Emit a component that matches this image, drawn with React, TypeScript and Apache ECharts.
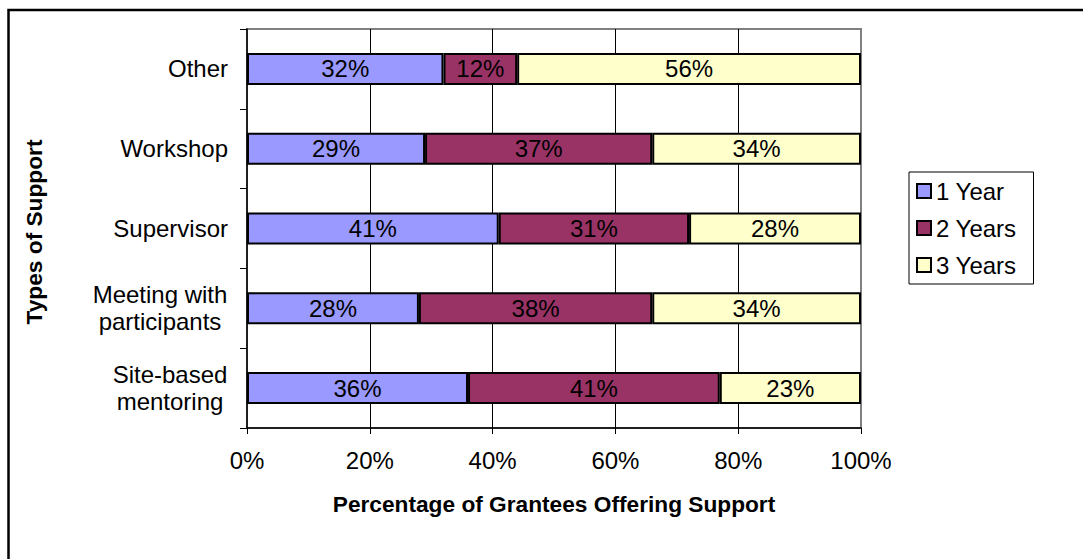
import React, { useEffect, useRef } from "react";
import * as echarts from "echarts";

const categories = [
  "Site-based\nmentoring",
  "Meeting with\nparticipants",
  "Supervisor",
  "Workshop",
  "Other",
];
const seriesNames = ["1 Year", "2 Years", "3 Years"];
const oneYear = [36, 28, 41, 29, 32];
const twoYears = [41, 38, 31, 37, 12];
const threeYears = [23, 34, 28, 34, 56];
const xTicks = [0, 20, 40, 60, 80, 100];
const colors = ["#9999FF", "#993366", "#FFFFCC"];

const FONT = "'Liberation Sans', Arial, sans-serif";

export default function App() {
  const ref = useRef<HTMLDivElement>(null);
  useEffect(() => {
    if (!ref.current) return;
    const chart = echarts.init(ref.current, null, { renderer: "svg" });
    const values = [oneYear, twoYears, threeYears];
    const labelWidths: Record<string, number> = {
      "Meeting with\nparticipants": 136,
      "Site-based\nmentoring": 116,
    };
    chart.setOption({
      animation: false,
      backgroundColor: "#fff",
      textStyle: { fontFamily: FONT },
      graphic: [
        {
          type: "rect",
          shape: { x: 8.5, y: 10, width: 1200, height: 700 },
          style: { fill: "none", stroke: "#000", lineWidth: 2.5 },
          silent: true,
        },
      ],
      grid: {
        left: 247,
        right: 1083 - 861,
        top: 29,
        bottom: 559 - 428,
        show: true,
        borderColor: "#808080",
        borderWidth: 2,
        containLabel: false,
      },
      legend: {
        orient: "vertical",
        left: 909,
        top: 172,
        data: seriesNames,
        icon: "rect",
        itemWidth: 14,
        itemHeight: 14,
        itemGap: 11,
        borderColor: "#000",
        borderWidth: 1,
        padding: [6, 17, 6, 7],
        textStyle: { fontFamily: FONT, fontSize: 24, color: "#000", lineHeight: 26 },
      },
      xAxis: {
        type: "value",
        min: 0,
        max: 100,
        interval: 20,
        name: "Percentage of Grantees Offering Support",
        nameLocation: "middle",
        nameGap: 64,
        nameTextStyle: { fontFamily: FONT, fontSize: 22.7, fontWeight: "bold", color: "#000" },
        axisLine: { show: true, lineStyle: { color: "#000", width: 1.5 } },
        axisTick: { show: true, length: 6, lineStyle: { color: "#000", width: 1 } },
        axisLabel: {
          margin: 20,
          fontFamily: FONT,
          fontSize: 24,
          color: "#000",
          formatter: (v: number) => (xTicks.includes(v) ? v + "%" : ""),
        },
        splitLine: {
          show: true,
          showMinLine: false,
          showMaxLine: false,
          lineStyle: { color: "#000", width: 1 },
        },
      },
      yAxis: {
        type: "category",
        data: categories,
        name: "Types of Support",
        nameLocation: "middle",
        nameGap: 202,
        nameRotate: 90,
        nameTextStyle: { fontFamily: FONT, fontSize: 22.7, fontWeight: "bold", color: "#000", padding: [0, 7, 0, 0] },
        axisLine: { show: true, lineStyle: { color: "#000", width: 1.5 } },
        axisTick: { show: true, length: 7, lineStyle: { color: "#000", width: 1 } },
        axisLabel: {
          margin: 19,
          fontFamily: FONT,
          fontSize: 24,
          lineHeight: 27,
          color: "#000",
          formatter: (v: string) => {
            const w = labelWidths[v];
            if (!w) return v;
            const key = w === 136 ? "a" : "b";
            return v
              .split("\n")
              .map((s) => `{${key}|${s}}`)
              .join("\n");
          },
          rich: {
            a: { width: 136, align: "center", fontSize: 24, lineHeight: 27, color: "#000", fontFamily: FONT },
            b: { width: 116, align: "center", fontSize: 24, lineHeight: 27, color: "#000", fontFamily: FONT },
          },
        },
        splitLine: { show: false },
      },
      series: seriesNames.map((name, i) => ({
        name,
        type: "bar",
        stack: "total",
        barWidth: 32,
        data: values[i],
        itemStyle: { color: colors[i], borderColor: "#000", borderWidth: 2 },
        label: {
          show: true,
          position: "inside",
          formatter: "{c}%",
          fontFamily: FONT,
          fontSize: 24,
          color: "#000",
        },
      })),
    });
    return () => chart.dispose();
  }, []);
  return (
    <div
      ref={ref}
      style={{ position: "absolute", left: 0, top: 0, width: 1083, height: 559 }}
    />
  );
}
